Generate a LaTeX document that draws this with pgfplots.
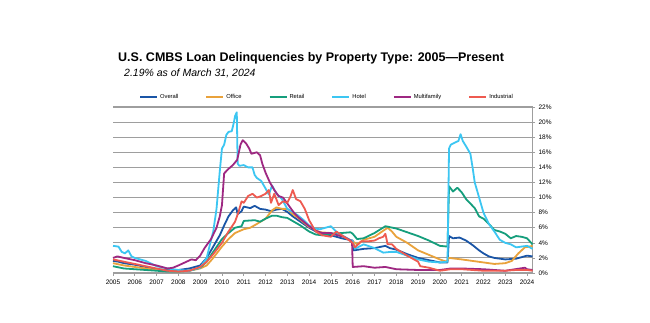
\documentclass[border=0pt]{standalone}
\usepackage{pgfplots}
\pgfplotsset{compat=1.18}
\usepackage{fontspec}
\setmainfont{Liberation Sans}
\definecolor{cOverall}{HTML}{1A55A6}
\definecolor{cOffice}{HTML}{E9A23B}
\definecolor{cRetail}{HTML}{159E7C}
\definecolor{cHotel}{HTML}{3CC6F2}
\definecolor{cMulti}{HTML}{9E2882}
\definecolor{cInd}{HTML}{EE5A50}
\definecolor{cGrid}{HTML}{9E9E9E}
\begin{document}
\begin{tikzpicture}
\path[use as bounding box,fill=white] (0pt,0pt) rectangle (650pt,322pt);
\node[anchor=west,inner sep=0,font=\fontsize{12.5}{14}\selectfont\bfseries] at (118pt,264pt) {U.S. CMBS Loan Delinquencies by Property Type: 2005---Present};
\node[anchor=west,inner sep=0,font=\fontsize{10.5}{12}\selectfont\itshape] at (124pt,249pt) {2.19\% as of March 31, 2024};
\begin{axis}[
  at={(113pt,49pt)}, anchor=south west,
  scale only axis, width=419.5pt, height=166pt,
  xmin=2005, xmax=2024.25, ymin=0, ymax=22,
  axis x line*=bottom, axis y line*=right,
  axis line style={cGrid, line width=0.8pt},
  xtick={2005,2006,...,2024},
  xticklabels={2005,2006,2007,2008,2009,2010,2011,2012,2013,2014,2015,2016,2017,2018,2019,2020,2021,2022,2023,2024},
  ytick={0,2,...,22},
  yticklabel={\pgfmathprintnumber{\tick}\%},
  /pgf/number format/assume math mode=true,
  tick label style={font=\fontsize{6.5}{7}\selectfont},
  tick style={cGrid, line width=0.6pt},
  tick align=outside, major tick length=2.5pt,
  ymajorgrids, grid style={cGrid, line width=1.1pt},
  xticklabel style={yshift=-1pt},
  clip=false,
  legend columns=6,
  legend style={at={(0.51,1.06)}, anchor=center, draw=none, fill=none,
    font=\fontsize{5.8}{6.5}\selectfont, /tikz/every even column/.append style={column sep=25pt}},
  legend image code/.code={\draw[#1, line width=2pt] (0pt,0pt) -- (17pt,0pt);},
  every axis plot/.append style={line width=1.8pt, line join=round},
]
\addplot[cOverall] coordinates {
(2005.0,1.6)(2005.25,1.5)(2005.5,1.3)(2005.75,1.2)(2006.0,1.1)(2006.5,0.8)(2007.0,0.5)(2007.5,0.4)(2008.0,0.4)(2008.5,0.6)
(2009.0,1.0)(2009.3,2.0)(2009.6,3.5)(2009.9,5.0)(2010.1,6.3)(2010.3,7.5)(2010.5,8.3)(2010.65,8.7)(2010.72,7.8)(2010.9,8.2)
(2011.0,8.8)(2011.3,8.6)(2011.5,8.9)(2011.75,8.5)(2012.0,8.4)(2012.25,8.2)(2012.5,8.4)(2012.75,8.5)(2013.0,8.1)(2013.25,7.5)
(2013.5,7.0)(2014.0,6.0)(2014.5,5.2)(2015.0,5.0)(2015.5,4.6)(2016.0,4.3)(2016.05,3.0)(2016.5,3.2)(2017.0,3.3)(2017.5,3.6)
(2017.7,3.3)(2018.0,3.1)(2018.5,2.5)(2019.0,2.0)(2019.5,1.7)(2020.0,1.4)(2020.35,1.4)(2020.42,4.9)(2020.6,4.6)(2020.9,4.7)
(2021.2,4.3)(2021.5,3.7)(2021.8,3.0)(2022.0,2.6)(2022.25,2.2)(2022.5,2.0)(2022.75,1.9)(2023.0,1.8)(2023.5,1.9)(2023.75,2.1)
(2024.0,2.3)(2024.25,2.2)};
\addlegendentry{Overall}
\addplot[cOffice] coordinates {
(2005.0,1.3)(2005.5,1.0)(2006.0,0.8)(2006.5,0.6)(2007.0,0.4)(2007.5,0.3)(2008.0,0.2)(2008.5,0.3)(2009.0,0.6)(2009.3,1.0)
(2009.6,2.0)(2010.0,3.5)(2010.3,4.5)(2010.6,5.3)(2011.0,5.8)(2011.3,6.0)(2011.6,6.5)(2012.0,7.2)(2012.3,8.3)(2012.5,8.7)
(2012.75,8.5)(2013.0,8.5)(2013.25,7.8)(2013.5,7.3)(2014.0,6.1)(2014.5,5.4)(2015.0,5.3)(2015.5,4.9)(2016.0,4.2)(2016.2,3.8)
(2016.5,4.4)(2017.0,4.8)(2017.5,5.8)(2017.6,6.0)(2017.8,5.5)(2018.0,4.8)(2018.5,4.0)(2019.0,3.0)(2019.5,2.4)(2020.0,1.8)
(2020.3,1.5)(2020.42,2.0)(2021.0,1.8)(2021.5,1.6)(2022.0,1.4)(2022.5,1.2)(2023.0,1.3)(2023.3,1.6)(2023.6,2.6)(2023.9,3.4)
(2024.1,3.5)(2024.25,3.6)};
\addlegendentry{Office}
\addplot[cRetail] coordinates {
(2005.0,0.9)(2005.5,0.6)(2006.0,0.5)(2006.5,0.4)(2007.0,0.3)(2007.5,0.2)(2008.0,0.2)(2008.5,0.3)(2009.0,0.7)(2009.3,1.5)
(2009.6,2.8)(2010.0,4.5)(2010.3,5.3)(2010.6,6.0)(2010.9,6.2)(2011.0,6.9)(2011.5,7.0)(2011.75,6.8)(2012.0,7.2)(2012.3,7.6)
(2012.5,7.6)(2012.75,7.4)(2013.0,7.3)(2013.3,6.8)(2013.6,6.3)(2014.0,5.5)(2014.3,5.1)(2014.6,5.0)(2015.0,5.2)(2015.5,5.3)
(2015.9,5.4)(2016.0,5.2)(2016.2,4.5)(2016.5,4.6)(2017.0,5.3)(2017.5,6.2)(2018.0,5.9)(2018.5,5.4)(2019.0,4.9)(2019.5,4.3)
(2020.0,3.6)(2020.35,3.5)(2020.42,11.5)(2020.6,10.8)(2020.8,11.3)(2021.0,10.7)(2021.2,9.8)(2021.4,9.2)(2021.6,8.6)(2021.8,7.5)
(2022.0,7.2)(2022.25,6.5)(2022.5,5.7)(2022.75,5.5)(2023.0,5.2)(2023.25,4.6)(2023.5,4.9)(2023.75,4.8)(2024.0,4.6)(2024.25,3.8)};
\addlegendentry{Retail}
\addplot[cHotel] coordinates {
(2005.0,3.6)(2005.25,3.5)(2005.4,2.8)(2005.55,2.6)(2005.7,3.0)(2005.85,2.2)(2006.0,2.0)(2006.5,1.6)(2007.0,0.9)(2007.5,0.6)
(2008.0,0.4)(2008.5,0.3)(2009.0,0.7)(2009.3,2.0)(2009.45,3.8)(2009.6,5.5)(2009.75,8.5)(2009.9,13.5)(2010.0,16.5)(2010.1,17.0)
(2010.2,18.3)(2010.3,18.7)(2010.45,18.8)(2010.55,20.0)(2010.6,20.8)(2010.68,21.3)(2010.72,14.5)(2010.8,14.2)(2011.0,14.3)(2011.2,14.0)
(2011.4,14.0)(2011.5,13.0)(2011.6,12.6)(2011.8,12.2)(2012.0,11.2)(2012.15,10.4)(2012.3,11.6)(2012.5,10.5)(2012.75,9.8)(2013.0,8.5)
(2013.3,8.0)(2013.5,7.6)(2013.75,7.0)(2014.0,6.3)(2014.25,5.9)(2014.5,5.8)(2014.75,6.0)(2015.0,6.2)(2015.1,5.9)(2015.3,5.3)
(2015.5,5.0)(2015.75,4.6)(2016.0,4.2)(2016.1,3.2)(2016.5,3.8)(2016.8,3.5)(2017.0,3.3)(2017.2,3.0)(2017.4,2.7)(2017.75,2.8)
(2018.0,2.8)(2018.5,2.3)(2019.0,1.8)(2019.5,1.5)(2020.0,1.4)(2020.35,1.5)(2020.42,16.5)(2020.5,17.0)(2020.7,17.3)(2020.85,17.5)
(2020.95,18.4)(2021.05,17.5)(2021.2,16.8)(2021.4,15.8)(2021.5,14.0)(2021.6,12.0)(2021.8,10.0)(2022.0,8.0)(2022.25,6.5)(2022.5,5.5)
(2022.75,4.4)(2023.0,4.0)(2023.25,3.8)(2023.5,3.4)(2023.75,3.5)(2024.0,3.6)(2024.25,3.2)};
\addlegendentry{Hotel}
\addplot[cMulti] coordinates {
(2005.0,2.0)(2005.2,2.2)(2005.5,2.0)(2006.0,1.7)(2006.5,1.3)(2007.0,1.0)(2007.5,0.6)(2007.75,0.7)(2008.0,1.0)(2008.3,1.4)
(2008.6,1.8)(2008.8,1.7)(2009.0,2.3)(2009.2,3.3)(2009.5,4.5)(2009.75,6.0)(2009.9,7.5)(2010.0,9.0)(2010.1,13.2)(2010.3,13.8)
(2010.5,14.3)(2010.7,15.0)(2010.85,17.0)(2010.95,17.6)(2011.1,17.2)(2011.25,16.5)(2011.35,15.8)(2011.6,16.0)(2011.75,15.6)(2011.85,14.5)
(2012.0,13.3)(2012.2,12.0)(2012.4,11.0)(2012.6,10.2)(2012.8,10.0)(2013.0,9.2)(2013.3,8.0)(2013.5,7.4)(2013.75,6.8)(2014.0,6.2)
(2014.3,5.6)(2014.6,5.3)(2015.0,5.3)(2015.3,5.0)(2015.6,4.8)(2015.9,4.3)(2015.97,4.0)(2016.0,0.8)(2016.5,0.9)(2017.0,0.7)
(2017.5,0.8)(2018.0,0.5)(2019.0,0.4)(2020.0,0.4)(2020.5,0.6)(2021.0,0.6)(2022.0,0.5)(2023.0,0.3)(2023.9,0.7)(2024.0,0.5)(2024.25,0.4)};
\addlegendentry{Multifamily}
\addplot[cInd] coordinates {
(2005.0,1.8)(2005.5,1.5)(2006.0,1.2)(2006.5,0.9)(2007.0,0.6)(2007.5,0.3)(2008.0,0.2)(2008.5,0.3)(2009.0,0.8)(2009.3,1.5)
(2009.6,2.5)(2010.0,4.0)(2010.3,5.5)(2010.6,6.8)(2010.75,8.0)(2010.9,9.5)(2011.0,9.3)(2011.2,10.2)(2011.4,10.5)(2011.6,10.0)
(2011.8,10.2)(2012.0,10.5)(2012.15,11.0)(2012.25,9.3)(2012.4,10.5)(2012.6,9.0)(2012.8,9.5)(2013.0,9.3)(2013.15,10.2)(2013.25,11.0)
(2013.4,9.8)(2013.6,9.5)(2013.8,8.5)(2014.0,7.0)(2014.3,5.5)(2014.6,5.0)(2015.0,4.8)(2015.25,5.5)(2015.5,5.0)(2016.0,4.0)
(2016.1,3.4)(2016.4,4.2)(2016.7,4.2)(2017.0,4.3)(2017.2,4.6)(2017.4,4.8)(2017.5,5.2)(2017.6,3.8)(2017.8,3.8)(2018.0,3.2)
(2018.5,2.3)(2019.0,1.5)(2019.1,0.9)(2019.5,0.7)(2020.0,0.3)(2020.5,0.5)(2021.0,0.5)(2021.5,0.4)(2022.0,0.3)(2022.5,0.3)
(2023.0,0.3)(2023.5,0.4)(2024.0,0.4)(2024.25,0.3)};
\addlegendentry{Industrial}
\end{axis}
\end{tikzpicture}
\end{document}
